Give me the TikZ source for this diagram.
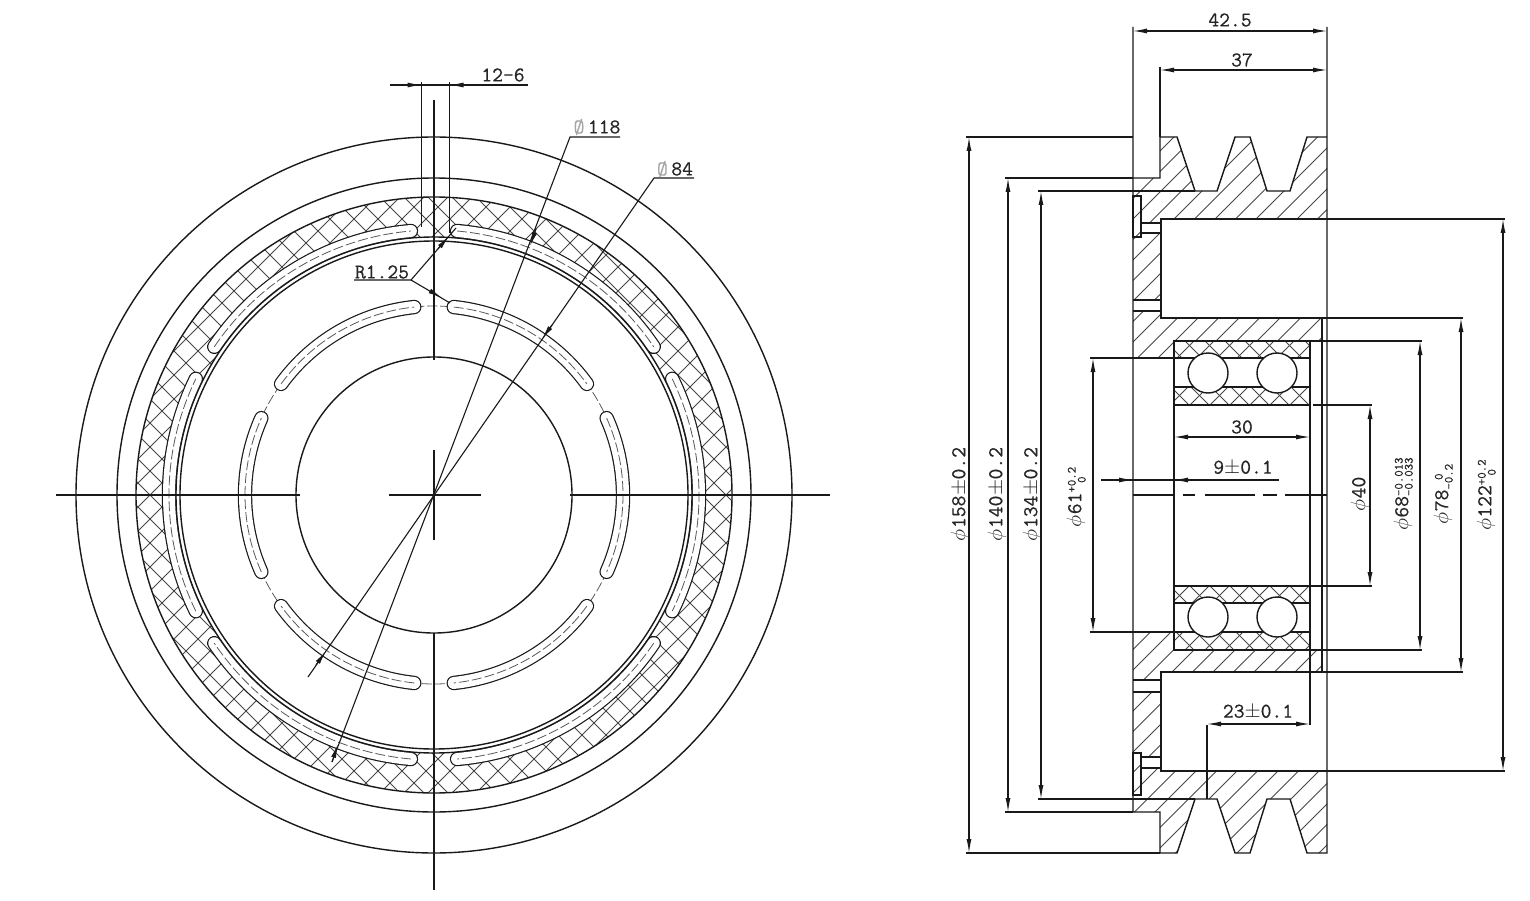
\documentclass[tikz,border=0pt]{standalone}
\usepackage{fontspec}
\setmonofont[FakeBold=0.5]{Latin Modern Mono}
\usepackage{tikz}
\usetikzlibrary{arrows.meta}
\newcommand{\dimfont}{\fontsize{21}{23}\selectfont\ttfamily}
\newcommand{\tolstack}[2]{{\fontsize{12.5}{12}\selectfont\begin{tabular}[c]{@{}c@{}}#1\\[-2pt]#2\end{tabular}}}
\newcommand{\dia}{$\phi$\kern1pt}
\newcommand{\slotarc}[3]{%
  \draw[partline, line width=14.4pt, line cap=round] ([shift=(#2:#1)]434,495) arc[start angle=#2, end angle=#3, radius=#1];
  \draw[line width=12pt, line cap=round, white] ([shift=(#2:#1)]434,495) arc[start angle=#2, end angle=#3, radius=#1];
  \draw[centreline] ([shift=(#2:#1)]434,495) arc[start angle=#2, end angle=#3, radius=#1];
}
\tikzset{
  partline/.style={draw=black!90, line width=1.4pt},
  thinline/.style={draw=black!90, line width=1.1pt},
  hatchline/.style={draw=black!72, line width=0.85pt},
  centreline/.style={draw=black!65, line width=0.8pt, dash pattern=on 10pt off 3pt},
  dimline/.style={thinline, {Latex[length=14pt,width=5pt]}-{Latex[length=14pt,width=5pt]}},
  tipline/.style={thinline, -{Latex[length=14pt,width=5pt]}},
  dimtext/.style={font=\dimfont, text=black!85, inner sep=0pt},
  sidetext/.style={dimtext, rotate=90}
}
\begin{document}
\begin{tikzpicture}[x=1pt, y=-1pt]
  \useasboundingbox (0,0) rectangle (1530,901);

  % Front view: cross-hatched ring
  \begin{scope}[even odd rule]
    \clip (434,495) circle[radius=298] (434,495) circle[radius=258];
    \foreach \k in {0,...,50} {
      \draw[hatchline] ({-567+24*\k},900) -- ++(900,-900);
      \draw[hatchline] ({243+24*\k},900) -- ++(-900,-900);
    }
  \end{scope}

  % Front view: circles
  \foreach \r in {358,317,298,258,254,138}
    \draw[partline] (434,495) circle[radius=\r];
  \draw[centreline] (434,495) circle[radius=189];

  % Front view: slots
  \foreach \a/\b in {-26/26,34/85,95/146,154/206,214/265,275/326} {
    \slotarc{265}{\a}{\b}
  }
  \foreach \a/\b in {-24/24,36/84,96/144,156/204,216/264,276/324} {
    \slotarc{189}{\a}{\b}
  }

  % Front view: axes
  \draw[partline] (56,495) -- (300,495);
  \draw[partline] (389,495) -- (481,495);
  \draw[partline] (570,495) -- (830,495);
  \draw[thinline] (434,100) -- (434,360);
  \draw[thinline] (434,450) -- (434,540);
  \draw[thinline] (434,633) -- (434,890);

  % Slot width
  \draw[thinline] (421.5,82) -- (421.5,227);
  \draw[thinline] (449.5,82) -- (449.5,233);
  \draw[thinline] (390,85) -- (528,85);
  \draw[tipline] (402,85) -- (421.5,85);
  \draw[tipline] (469,85) -- (449.5,85);
  \node[dimtext] (slotwidth) at (503,75) {12-6};

  % Leaders
  \draw[thinline] (620,137) -- (570,137) -- (332,762);
  \draw[tipline] (536,229) -- (530,246);
  \draw[tipline] (332,762) -- (338,744);
  \node[dimtext] (dia118) at (597,127) {{\color{black!35}\O}\,118};
  \draw[thinline] (694,178) -- (654,178) -- (308,677);
  \draw[tipline] (552,325) -- (542,339);
  \draw[tipline] (316,665) -- (326,651);
  \node[dimtext] (dia84) at (675,169) {{\color{black!35}\O}\,84};
  \draw[thinline] (354,280) -- (411,280) -- (456,228);
  \draw[tipline] (438,249) -- (449,236);
  \draw[thinline] (411,280) -- (450,303);
  \draw[tipline] (430,291) -- (442,298);
  \node[dimtext] (radius125) at (382,272) {R1.25};

  % Section: hatching
  \begin{scope}
    \clip (1133,178) -- (1160,178) -- (1160,137) -- (1177,137) -- (1195,191) -- (1217,191) -- (1235,137) -- (1250,137)
      -- (1267,191) -- (1290,191) -- (1307,137) -- (1327,137) -- (1327,219) -- (1161,219) -- (1161,223) -- (1141,223)
      -- (1141,233) -- (1161,233) -- (1161,300) -- (1133,300) -- cycle
      (1133,311) -- (1161,311) -- (1161,318) -- (1322,318) -- (1322,341) -- (1174,341) -- (1174,358) -- (1133,358) -- cycle
      (1133,632) -- (1174,632) -- (1174,650) -- (1322,650) -- (1322,672) -- (1161,672) -- (1161,680) -- (1133,680) -- cycle
      (1133,692) -- (1161,692) -- (1161,757) -- (1141,757) -- (1141,768) -- (1161,768) -- (1161,771) -- (1327,771)
      -- (1327,853) -- (1307,853) -- (1290,799) -- (1267,799) -- (1250,853) -- (1235,853) -- (1217,799) -- (1195,799)
      -- (1177,853) -- (1160,853) -- (1160,812) -- (1133,812) -- cycle;
    \foreach \k in {0,...,45}
      \draw[hatchline] ({370+20.5*\k},900) -- ++(900,-900);
  \end{scope}

  % Section: bearing hatching
  \begin{scope}
    \clip (1174,341) rectangle (1310,358) (1174,387) rectangle (1310,405)
      (1174,586) rectangle (1310,603) (1174,632) rectangle (1310,650);
    \foreach \k in {0,...,23} {
      \draw[hatchline] ({615+20*\k},900) -- ++(900,-900);
      \draw[hatchline] ({1424+20*\k},900) -- ++(-900,-900);
    }
  \end{scope}

  % Section: outline
  \draw[partline] (1133,27) -- (1133,812) -- (1160,812) -- (1160,853) -- (1177,853) -- (1195,799) -- (1217,799) -- (1235,853)
    -- (1250,853) -- (1267,799) -- (1290,799) -- (1307,853) -- (1327,853) -- (1327,27);
  \draw[partline] (1133,178) -- (1160,178) -- (1160,137) -- (1177,137) -- (1195,191) -- (1217,191) -- (1235,137)
    -- (1250,137) -- (1267,191) -- (1290,191) -- (1307,137) -- (1327,137);
  \draw[partline] (1327,219) -- (1161,219) -- (1161,318) -- (1327,318);
  \draw[partline] (1327,771) -- (1161,771) -- (1161,672) -- (1327,672);
  \draw[partline] (1322,318) -- (1322,672);
  \draw[partline] (1133,300) -- (1161,300) (1133,311) -- (1161,311);
  \draw[partline] (1133,680) -- (1161,680) (1133,692) -- (1161,692);
  \draw[partline] (1141,223) -- (1161,223) (1141,233) -- (1161,233);
  \draw[partline] (1141,757) -- (1161,757) (1141,768) -- (1161,768);
  \draw[thinline] (1133,196) rectangle (1141,237);
  \draw[thinline] (1133,753) rectangle (1141,795);

  % Section: bearing
  \draw[partline] (1174,341) rectangle (1310,405);
  \draw[partline] (1174,586) rectangle (1310,650);
  \draw[partline] (1174,358) -- (1310,358) (1174,387) -- (1310,387);
  \draw[partline] (1174,603) -- (1310,603) (1174,632) -- (1310,632);
  \draw[partline] (1174,405) -- (1174,586);
  \draw[thinline] (1310,405) -- (1310,725);
  \foreach \x in {1208,1277} {
    \draw[partline, fill=white] (\x,373) circle[radius=20];
    \draw[partline, fill=white] (\x,617) circle[radius=20];
  }

  % Section: axis
  \draw[partline] (1133,495) -- (1174,495);
  \draw[partline] (1183,495) -- (1195,495) (1205,495) -- (1255,495) (1263,495) -- (1277,495) (1285,495) -- (1327,495);

  % Width dimensions
  \draw[dimline] (1133,31) -- (1327,31);
  \node[dimtext] (width425) at (1230,20) {42.5};
  \draw[thinline] (1160,67) -- (1160,137);
  \draw[dimline] (1160,70) -- (1327,70);
  \node[dimtext] (width37) at (1242,60) {37};
  \draw[dimline] (1174,437) -- (1310,437);
  \node[dimtext] (width30) at (1242,427) {30};
  \draw[thinline] (1101,480) -- (1279,480);
  \draw[tipline] (1113,480) -- (1133,480);
  \draw[tipline] (1194,480) -- (1174,480);
  \node[dimtext] (width9) at (1243,468) {9$\pm$0.1};
  \draw[thinline] (1207,725) -- (1207,799);
  \draw[dimline] (1207,724) -- (1310,724);
  \node[dimtext] (width23) at (1258,712) {23$\pm$0.1};

  % Left diameters
  \draw[thinline] (966,137) -- (1133,137) (966,853) -- (1160,853);
  \draw[dimline] (969,137) -- (969,853);
  \node[sidetext] (dia158) at (960,494) {\dia158$\pm$0.2};
  \draw[thinline] (1005,178) -- (1133,178) (1005,812) -- (1133,812);
  \draw[dimline] (1008,178) -- (1008,812);
  \node[sidetext] (dia140) at (997,494) {\dia140$\pm$0.2};
  \draw[thinline] (1038,191) -- (1195,191) (1038,799) -- (1195,799);
  \draw[dimline] (1041,191) -- (1041,799);
  \node[sidetext] (dia134) at (1032,494) {\dia134$\pm$0.2};
  \draw[thinline] (1090,358) -- (1174,358) (1090,632) -- (1174,632);
  \draw[dimline] (1093,358) -- (1093,632);
  \node[sidetext] (dia61) at (1078,497) {\dia61\tolstack{+0.2}{0}};

  % Right diameters
  \draw[thinline] (1313,405) -- (1372,405) (1310,586) -- (1372,586);
  \draw[dimline] (1370,405) -- (1370,586);
  \node[sidetext] (dia40) at (1360,494) {\dia40};
  \draw[thinline] (1310,341) -- (1422,341) (1310,650) -- (1422,650);
  \draw[dimline] (1420,341) -- (1420,650);
  \node[sidetext] (dia68) at (1405,494) {\dia68\tolstack{-0.013}{-0.033}};
  \draw[thinline] (1322,318) -- (1463,318) (1322,672) -- (1463,672);
  \draw[dimline] (1461,318) -- (1461,672);
  \node[sidetext] (dia78) at (1445,494) {\dia78\tolstack{0}{-0.2}};
  \draw[thinline] (1327,219) -- (1505,219) (1327,771) -- (1505,771);
  \draw[dimline] (1503,219) -- (1503,771);
  \node[sidetext] (dia122) at (1488,495) {\dia122\tolstack{+0.2}{0}};
\end{tikzpicture}
\end{document}
